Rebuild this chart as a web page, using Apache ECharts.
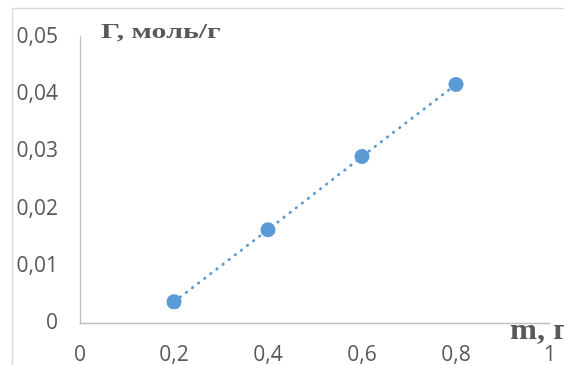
<!DOCTYPE html>
<html>
<head>
<meta charset="utf-8">
<script src="https://cdn.jsdelivr.net/npm/echarts@6/dist/echarts.min.js"></script>
<style>
  html, body { margin: 0; padding: 0; background: #ffffff; }
  #chart { width: 564px; height: 365px; }
</style>
</head>
<body>
<div id="chart"></div>
<script>
// Adsorption Г (моль/г) against adsorbent mass m (г)
const massValues = [0.2, 0.4, 0.6, 0.8];
const gammaValues = [0.0037, 0.0163, 0.0291, 0.0417];

const xTicks = [0, 0.2, 0.4, 0.6, 0.8, 1];
const yTicks = [0, 0.01, 0.02, 0.03, 0.04, 0.05];

const xTitle = 'm, г';
const yTitle = 'Г, моль/г';

// decimal comma for tick labels
const fmt = v => String(+v.toFixed(4)).replace('.', ',');

const points = massValues.map((m, i) => [m, gammaValues[i]]);

const chart = echarts.init(document.getElementById('chart'), null, { renderer: 'canvas' });

const labelStyle = {
  color: '#595959',
  fontFamily: '"Open Sans", sans-serif',
  fontSize: 21
};
const titleFont = '"Liberation Serif", "Times New Roman", serif';

chart.setOption({
  animation: false,
  backgroundColor: '#ffffff',
  graphic: [{
    type: 'rect',
    silent: true,
    shape: { x: 12.5, y: 8.5, width: 700, height: 500 },
    style: { fill: 'none', stroke: '#d9d9d9', lineWidth: 1.3 }
  }, {
    // vertical axis title, set in a slightly widened bold serif
    type: 'text',
    silent: true,
    x: 101,
    y: 32,
    scaleX: 1.36,
    style: {
      text: yTitle,
      fill: '#595959',
      font: 'bold 22px ' + titleFont,
      align: 'left',
      verticalAlign: 'middle'
    }
  }, {
    // horizontal axis title at the right end of the axis
    type: 'text',
    silent: true,
    x: 510,
    y: 331,
    scaleX: 1.08,
    style: {
      text: xTitle,
      fill: '#595959',
      font: 'bold 30px ' + titleFont,
      align: 'left',
      verticalAlign: 'middle'
    }
  }],
  grid: {
    left: 80, top: 37, right: 14, bottom: 42,
    containLabel: false,
    outerBoundsMode: 'none'
  },
  xAxis: {
    type: 'value',
    min: xTicks[0],
    max: xTicks[xTicks.length - 1],
    interval: xTicks[1] - xTicks[0],
    axisLine: { show: true, lineStyle: { color: '#bfbfbf', width: 1.3 } },
    axisTick: { show: false },
    splitLine: { show: false },
    axisLabel: Object.assign({ margin: 22, formatter: fmt }, labelStyle)
  },
  yAxis: {
    type: 'value',
    min: yTicks[0],
    max: yTicks[yTicks.length - 1],
    interval: yTicks[1] - yTicks[0],
    axisLine: { show: true, lineStyle: { color: '#bfbfbf', width: 1.3 } },
    axisTick: { show: false },
    splitLine: { show: false },
    axisLabel: Object.assign({ margin: 22, formatter: fmt }, labelStyle)
  },
  series: [{
    type: 'line',
    data: points,
    symbol: 'circle',
    symbolSize: 15,
    itemStyle: { color: '#5b9bd5' },
    lineStyle: { color: '#5b9bd5', width: 2.8, type: [0.5, 7.2], cap: 'round' },
    z: 3
  }]
});
</script>
</body>
</html>
